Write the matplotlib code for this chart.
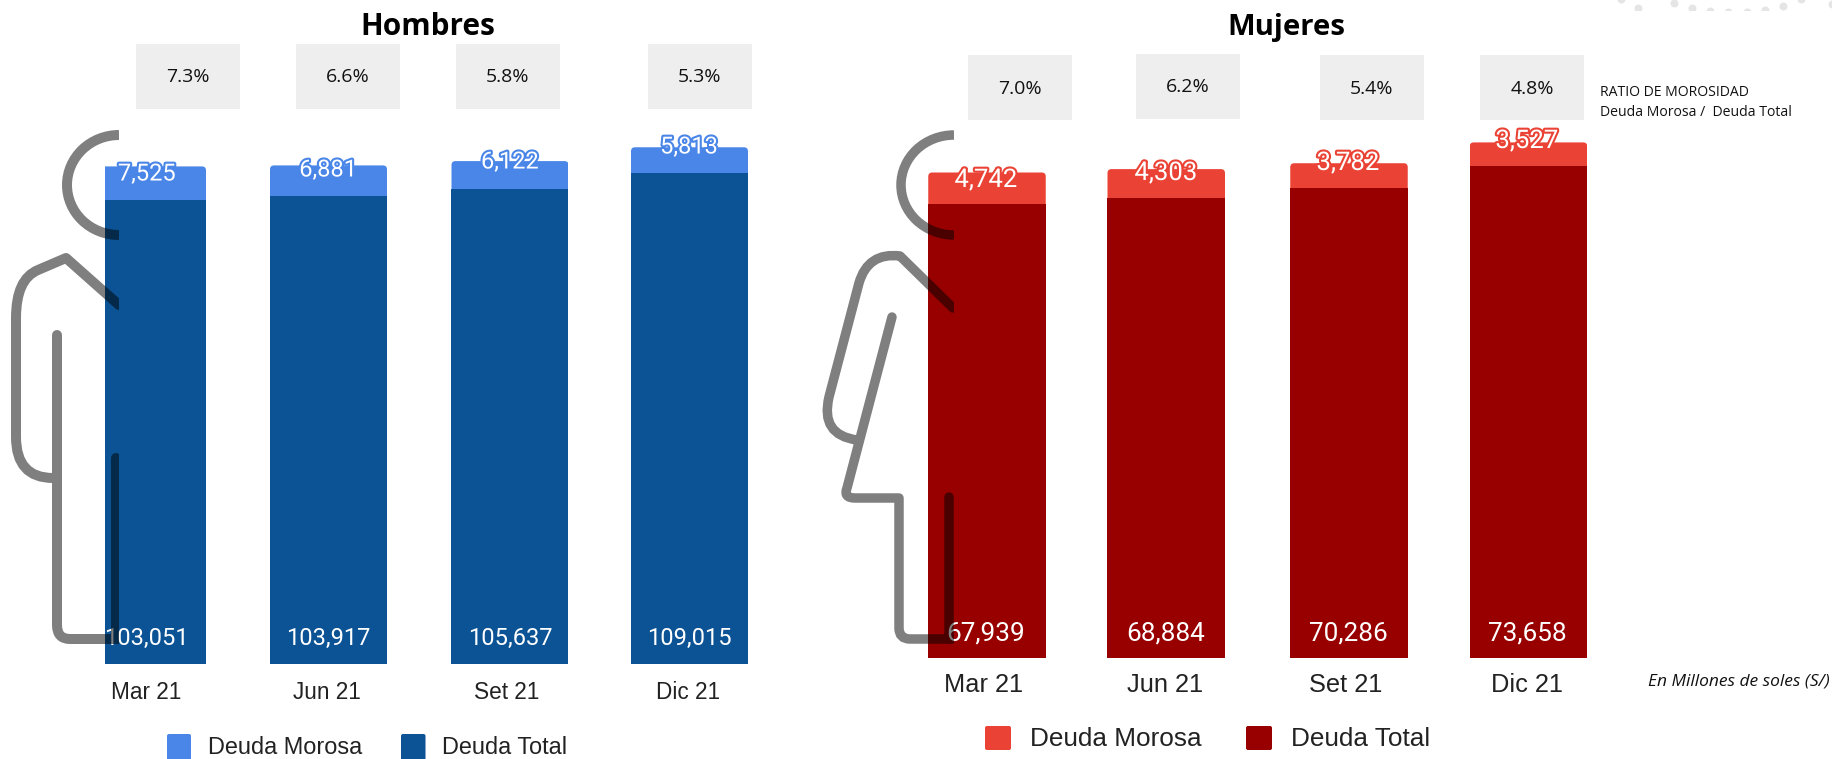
"""Deuda morosa y deuda total por sexo, 2021."""
import matplotlib
matplotlib.use('Agg')
import matplotlib.pyplot as plt
import matplotlib.patheffects as pe
from matplotlib.patches import Rectangle, FancyBboxPatch, PathPatch, Arc
from matplotlib.path import Path

W, H = 1833, 759

# data
months = ['Mar 21', 'Jun 21', 'Set 21', 'Dic 21']
men_total = [103051, 103917, 105637, 109015]
men_overdue = [7525, 6881, 6122, 5813]
men_ratio = [7.3, 6.6, 5.8, 5.3]
women_total = [67939, 68884, 70286, 73658]
women_overdue = [4742, 4303, 3782, 3527]
women_ratio = [7.0, 6.2, 5.4, 4.8]

# colours
BLUE_LIGHT = '#4a86e8'
BLUE_DARK = '#0b5394'
RED_LIGHT = '#ea4335'
RED_DARK = '#980000'
BOX = '#eeeeee'
INK = '#222222'
ICON = (0, 0, 0, 0.5)
DOTS = '#e5e5e5'

# layout, all in reference pixels
AX_TOP = 130
LEFT = dict(x0=40, x1=810, base=664, scale=0.0045, centers=[147.5, 328.5, 510, 689.5],
            ticks=[146, 327, 507, 688], width=117, size=16.3, pad=12.3)
RIGHT = dict(x0=840, x1=1640, base=658, scale=0.00668, centers=[987, 1166.25, 1349, 1528.5],
             ticks=[984, 1165, 1346, 1527], width=117.5, size=18.3, pad=11)

men_box_x = [136, 296, 456, 648]
men_box_y = [44, 44, 44, 44]
women_box_x = [968, 1136, 1320, 1480]
women_box_y = [55, 54, 55, 55]
BOX_W, BOX_H = 104, 65

men_top_xy = [(147, 174), (328, 170), (510, 162), (689, 147)]
women_top_xy = [(986, 180), (1166, 173), (1348, 163), (1527, 141)]
men_low_xy = [(146, 638), (328, 638), (510, 638), (689, 638)]
women_low_xy = [(986, 634), (1166, 634), (1348, 634), (1527, 634)]

dots_x = [1621, 1638, 1674, 1692, 1710, 1728, 1747, 1765, 1783, 1801, 1832]
dots_y = [-1, 8, 3, 8, 11, 12, 12, 10, 6, -1, 4]


def px_rect(x0, y0, x1, y1):
    """Figure fraction rectangle from pixel corners."""
    return [x0 / W, 1 - y1 / H, (x1 - x0) / W, (y1 - y0) / H]


def bars(fig, cfg, total, overdue, dark, light):
    ax = fig.add_axes(px_rect(cfg['x0'], AX_TOP, cfg['x1'], cfg['base']))
    ax.set_xlim(cfg['x0'], cfg['x1'])
    ax.set_ylim(0, (cfg['base'] - AX_TOP) / cfg['scale'])
    ax.patch.set_alpha(0)
    for s in ax.spines.values():
        s.set_visible(False)
    ax.set_yticks([])
    ax.bar(cfg['centers'], total, width=cfg['width'], color=dark)
    tops = ax.bar(cfg['centers'], overdue, bottom=total, width=cfg['width'], color=light)
    # little rounded top corners
    for b in tops:
        clip = FancyBboxPatch((b.get_x(), 0), b.get_width(), b.get_y() + b.get_height(),
                              boxstyle='round,pad=0,rounding_size=4',
                              mutation_aspect=1 / cfg['scale'], transform=ax.transData)
        b.set_clip_path(clip)
    ax.set_xticks(cfg['ticks'], months, fontsize=cfg['size'], color=INK,
                  family='Liberation Sans')
    ax.tick_params(axis='x', length=0, pad=cfg['pad'])
    return ax


def value_labels(ax, values, xy, size, halo=None):
    for v, (x, y) in zip(values, xy):
        t = ax.text(x, y, f'{v:,}', fontsize=size, color='white', ha='center', va='center',
                    family='Roboto', zorder=5)
        if halo:
            t.set_path_effects([pe.withStroke(linewidth=3, foreground=halo)])


def ratio_boxes(ax, ratios, xs, ys):
    for r, x, y in zip(ratios, xs, ys):
        ax.add_patch(Rectangle((x, y), BOX_W, BOX_H, facecolor=BOX, edgecolor='none', zorder=2))
        ax.text(x + BOX_W / 2, y + BOX_H / 2 + 1, f'{r:.1f}%', fontsize=14, color='#111111',
                ha='center', va='center', family='Open Sans', zorder=3)


def legend(ax, items, y0, y1, size, dy=1):
    for sw_x0, sw_x1, color, label, text_x in items:
        ax.add_patch(FancyBboxPatch((sw_x0, y0), sw_x1 - sw_x0, y1 - y0,
                                    boxstyle='round,pad=0,rounding_size=2',
                                    facecolor=color, edgecolor='none', zorder=2))
        ax.text(text_x, (y0 + y1) / 2 + dy, label, fontsize=size, color=INK, ha='left',
                va='center', family='Liberation Sans', zorder=3)


def icon(ax, verts, codes, arc_xy, arc_w, limit, lw=10):
    clip = Rectangle((0, 0), limit, H, transform=ax.transData)
    body = PathPatch(Path(verts, codes), fill=False, edgecolor=ICON, linewidth=lw * 0.72,
                     joinstyle='round', capstyle='round', zorder=6)
    ax.add_patch(body)
    body.set_clip_path(clip)
    head = Arc(arc_xy, arc_w, 100, theta1=90, theta2=270, edgecolor=ICON,
               linewidth=lw * 0.72, zorder=6)
    ax.add_patch(head)
    head.set_clip_path(clip)


fig = plt.figure(figsize=(W / 100, H / 100), dpi=100, facecolor='white')

ax_l = bars(fig, LEFT, men_total, men_overdue, BLUE_DARK, BLUE_LIGHT)
ax_r = bars(fig, RIGHT, women_total, women_overdue, RED_DARK, RED_LIGHT)

# overlay in pixel coordinates for the annotations and the pictograms
ov = fig.add_axes([0, 0, 1, 1], zorder=10)
ov.set_xlim(0, W)
ov.set_ylim(H, 0)
ov.axis('off')

# the picture sits over the first men's bar and hides its left part
ov.add_patch(Rectangle((80, 130), 25, 540, facecolor='white', edgecolor='none', zorder=1))

ov.text(427.5, 27, 'Hombres', fontsize=21.4, fontweight='bold', ha='center', va='center',
        family='Open Sans', color='black')
ov.text(1286, 27, 'Mujeres', fontsize=21.2, fontweight='bold', ha='center', va='center',
        family='Open Sans', color='black')

ratio_boxes(ov, men_ratio, men_box_x, men_box_y)
ratio_boxes(ov, women_ratio, women_box_x, women_box_y)

value_labels(ov, men_overdue, men_top_xy, 17, halo=BLUE_LIGHT)
value_labels(ov, women_overdue, women_top_xy, 18.5, halo=RED_LIGHT)
value_labels(ov, men_total, men_low_xy, 17)
value_labels(ov, women_total, women_low_xy, 18.8)

legend(ov, [(167, 191, BLUE_LIGHT, 'Deuda Morosa', 208),
            (401, 425.5, BLUE_DARK, 'Deuda Total', 442)], 734, 762, 16.9, dy=0)
legend(ov, [(985, 1011, RED_LIGHT, 'Deuda Morosa', 1030),
            (1246, 1272, RED_DARK, 'Deuda Total', 1291)], 726, 750, 18.8)

ov.text(1600, 92, 'RATIO DE MOROSIDAD', fontsize=10.1, color='#111111', va='center',
        family='Open Sans')
ov.text(1600, 112, 'Deuda Morosa /  Deuda Total', fontsize=10.1, color='#111111', va='center',
        family='Open Sans')
ov.text(1648, 681, 'En Millones de soles (S/)', fontsize=12.5, style='italic', color='#111111',
        va='center', family='Open Sans')

# faint dots cut by the top edge
sc = ov.scatter(dots_x, dots_y, s=33, color=DOTS, linewidths=0, zorder=1)
sc.set_clip_path(Rectangle((1580, 0), 253, 10, transform=ov.transData))

# pictograms
M, L, Q = Path.MOVETO, Path.LINETO, Path.CURVE3
icon(ov,
     [(119, 305), (66, 258), (38, 270), (16, 279), (16, 318), (16, 437), (16, 478), (53, 478),
      (57, 335), (57, 625), (57, 639), (70, 639), (119, 639),
      (116, 458), (116, 639)],
     [M, L, L, Q, Q, L, Q, Q,
      M, L, Q, Q, L,
      M, L],
     (119, 185), 104, 119)
icon(ov,
     [(953, 308), (900, 256), (868, 252), (859, 283), (829, 397), (820, 435), (857, 440),
      (892, 317), (847, 488), (843, 498), (855, 498), (899, 498), (899, 628), (899, 639), (910, 639), (953.5, 639),
      (949, 497), (949, 639)],
     [M, L, Q, Q, L, Q, Q,
      M, L, Q, Q, L, L, Q, Q, L,
      M, L],
     (954, 185), 106, 954, lw=9.5)

fig.savefig('out.png', dpi=100, facecolor='white')
